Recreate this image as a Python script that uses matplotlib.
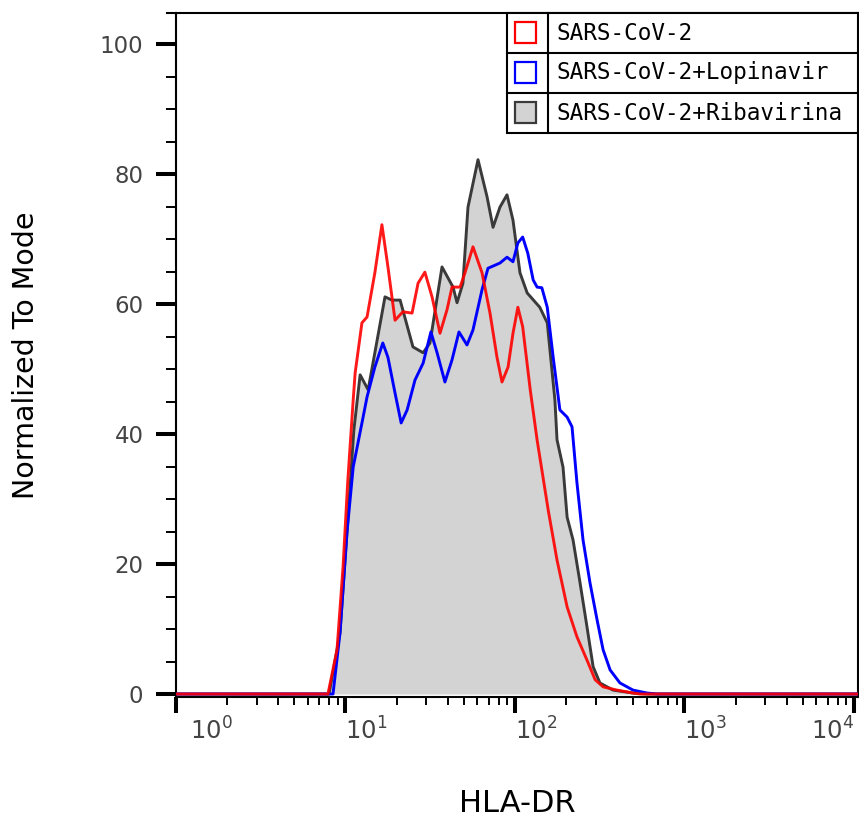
import math
import matplotlib
matplotlib.use('Agg')
import matplotlib.pyplot as plt
from matplotlib.patches import Rectangle
from matplotlib.lines import Line2D
from matplotlib.transforms import ScaledTranslation
from matplotlib.ticker import FixedLocator, LogLocator, MultipleLocator, FuncFormatter, NullFormatter

# curves (HLA-DR value, % of mode)
red_x = [1, 7.88, 8.91, 9.67, 10.3, 11.1, 11.4, 12.5, 13.4, 14.9, 16.4, 17.8, 19.6, 21.8, 24.7,
         26.8, 29.4, 32.4, 36.1, 39.7, 42.5, 47.4, 50.7, 56.5, 63.9, 71.2, 78.3, 83.8, 91.0,
         97.3, 104, 111, 123, 135, 157, 177, 203, 232, 266, 297, 331, 400, 497, 547, 10550]
red_y = [0, 0, 6.8, 19.5, 32.5, 45.2, 49.4, 57.1, 58.0, 64.8, 72.2, 65.7, 57.5, 58.8, 58.6,
         63.2, 64.9, 61.1, 55.5, 59.1, 62.6, 62.6, 64.8, 68.8, 64.8, 58.6, 51.8, 48.0, 50.3,
         55.5, 59.5, 56.5, 46.8, 39.1, 28.3, 20.6, 13.4, 8.8, 5.2, 2.2, 1.1, 0.6, 0.15, 0, 0]

blue_x = [1, 8.44, 9.28, 10.2, 11.1, 12.7, 13.4, 14.9, 16.6, 17.8, 19.6, 21.3, 23.1, 25.7,
          28.7, 31.9, 34.7, 38.6, 42.5, 46.7, 52.1, 56.5, 63.9, 69.3, 81.5, 89.7, 97.3, 104,
          111, 119, 128, 135, 144, 155, 168, 184, 203, 217, 232, 252, 277, 305, 331, 364, 416,
          497, 601, 688, 10550]
blue_y = [0, 0, 9.4, 24.8, 34.9, 42.6, 45.7, 50.3, 54.0, 51.8, 46.3, 41.7, 43.7, 48.3,
          50.9, 55.7, 52.5, 48.0, 51.4, 55.7, 53.7, 56.0, 62.2, 65.5, 66.3, 67.2, 66.5, 69.4,
          70.3, 67.8, 63.7, 62.6, 62.5, 59.5, 51.8, 43.7, 42.6, 41.1, 32.5, 23.7, 17.1, 11.4,
          6.8, 3.7, 1.7, 0.6, 0.15, 0, 0]

gray_x = [1, 8.0, 9.28, 10.2, 11.2, 12.2, 13.6, 17.1, 18.8, 21.0, 25.0, 28.7, 31.5, 37.1,
          43.1, 45.5, 49.3, 52.8, 60.5, 68.4, 74.2, 81.5, 89.7, 97.3, 107, 118, 140, 155, 172,
          177, 192, 203, 220, 242, 266, 289, 317, 379, 497, 601, 10550]
gray_y = [0, 0, 9.4, 24.8, 40.6, 49.1, 46.8, 61.1, 60.6, 60.6, 53.4, 52.5, 54.0, 65.7,
          62.6, 60.2, 63.2, 74.9, 82.2, 76.5, 71.8, 74.9, 76.8, 72.9, 64.8, 61.7, 59.5, 57.1,
          45.2, 39.1, 34.9, 27.2, 23.7, 17.1, 10.3, 4.2, 1.7, 0.6, 0.15, 0, 0]

labels = ['SARS-CoV-2', 'SARS-CoV-2+Lopinavir', 'SARS-CoV-2+Ribavirina']
y_ticks = [0, 20, 40, 60, 80, 100]
x_decades = [0, 1, 2, 3, 4]

W, H = 859, 821
def fx(x):
    return x / W
def fy(y):
    return 1 - y / H

fig = plt.figure(figsize=(W / 100, H / 100), dpi=100)
ax = fig.add_axes([fx(176), fy(697), 682 / W, 684 / H])

ax.fill_between(gray_x, gray_y, 0, color='#d3d3d3', lw=0, zorder=1)
ax.plot(gray_x, gray_y, color='#3a3a3a', lw=2.1, zorder=2, solid_joinstyle='round')
ax.plot(blue_x, blue_y, color='#0000ff', lw=2.1, zorder=3, solid_joinstyle='round')
ax.plot(red_x, red_y, color='#ff0000', lw=2.1, zorder=4, alpha=0.9, solid_joinstyle='round')

ax.set_xscale('log')
ax.set_xlim(1, 10 ** 4.0236)
ax.set_ylim(-0.46, 104.77)

ax.yaxis.set_major_locator(FixedLocator(y_ticks))
ax.yaxis.set_minor_locator(MultipleLocator(5))
ax.xaxis.set_major_locator(FixedLocator([10.0 ** d for d in x_decades]))
ax.xaxis.set_minor_locator(LogLocator(base=10, subs=range(2, 10)))
ax.xaxis.set_minor_formatter(NullFormatter())
ax.xaxis.set_major_formatter(FuncFormatter(lambda v, p: r'$\mathregular{10^{%d}}$' % round(math.log10(v))))

ax.tick_params(axis='y', which='major', length=14.4, width=2.9, pad=9, labelsize=16.5, labelcolor='#444444')
ax.tick_params(axis='y', which='minor', length=7.2, width=1.4)
ax.tick_params(axis='x', which='major', length=11.5, width=2.9, pad=3, labelsize=17.5, labelcolor='#444444')
ax.tick_params(axis='x', which='minor', length=5.8, width=1.4)

for s in ax.spines.values():
    s.set_linewidth(1.5)

# FlowJo-like label placement: labels start at the tick
xt = ax.xaxis.get_major_ticks()
for i, tk in enumerate(xt):
    tk.label1.set_horizontalalignment('left')
    if i == 0:
        tk.label1.set_transform(tk.label1.get_transform() + ScaledTranslation(14 / 100, 0, fig.dpi_scale_trans))
    if i == len(x_decades) - 1:
        tk.label1.set_horizontalalignment('right')

# top border sticks out to the left a bit
fig.add_artist(Line2D([fx(167), fx(176)], [fy(13), fy(13)], color='black', lw=1.5))

fig.text(fx(26), fy(355), 'Normalized To Mode', rotation=90, ha='center', va='center', fontsize=20.5)
fig.text(fx(517), fy(803), 'HLA-DR', ha='center', va='center', fontsize=22)

# legend table
rows = [13, 53, 93, 133]
fig.add_artist(Rectangle((fx(507), fy(133)), fx(858) - fx(507), fy(13) - fy(133),
                         transform=fig.transFigure, fill=True, facecolor='white', edgecolor='black', lw=1.5, zorder=5))
for r in rows[1:3]:
    fig.add_artist(Line2D([fx(507), fx(858)], [fy(r), fy(r)], color='black', lw=1.5, zorder=6))
fig.add_artist(Line2D([fx(548), fx(548)], [fy(13), fy(133)], color='black', lw=1.5, zorder=6))
sw_face = ['white', 'white', '#d3d3d3']
sw_edge = ['#ff0000', '#0000ff', '#3a3a3a']
for i, lab in enumerate(labels):
    yc = (rows[i] + rows[i + 1]) / 2
    fig.add_artist(Rectangle((fx(515), fy(yc + 10.5)), 21 / W, 21 / H, transform=fig.transFigure,
                             facecolor=sw_face[i], edgecolor=sw_edge[i], lw=1.6, zorder=7))
    fig.text(fx(557), fy(yc), lab, ha='left', va='center', fontsize=16.3,
             family='DejaVu Sans Mono', zorder=7)

fig.savefig('out.png', dpi=100)
